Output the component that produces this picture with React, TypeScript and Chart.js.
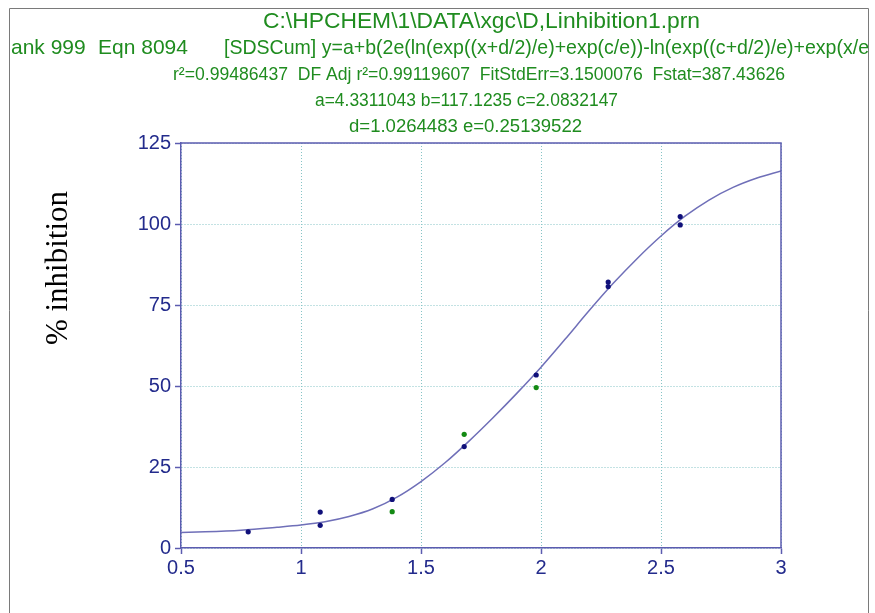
import React, { useEffect, useRef } from "react";
import { Chart, registerables } from "chart.js";

Chart.register(...registerables);

// ---- data ----
const blueX = [0.78, 1.08, 1.08, 1.38, 1.68, 1.98, 2.28, 2.28, 2.58, 2.58];
const blueY = [5.0, 11.1, 7.0, 15.0, 31.3, 53.4, 82.1, 80.7, 102.3, 99.7];
const greenX = [1.38, 1.68, 1.98];
const greenY = [11.2, 35.1, 49.5];
const fitX = [0.5, 0.6, 0.75, 0.9, 1.0, 1.1, 1.2, 1.3, 1.4, 1.5, 1.6, 1.7, 1.8, 1.9, 2.0, 2.1, 2.2, 2.3, 2.4, 2.5, 2.6, 2.7, 2.8, 2.9, 3.0];
const fitY = [4.8, 5.0, 5.5, 6.4, 7.1, 8.1, 9.7, 12.1, 15.7, 20.5, 26.3, 33.0, 40.2, 47.8, 55.8, 64.4, 73.2, 81.6, 89.3, 96.3, 102.4, 107.4, 111.3, 114.2, 116.4];
const xTicks = [0.5, 1, 1.5, 2, 2.5, 3];
const yTicks = [0, 25, 50, 75, 100, 125];
const headerTitle = "C:\\HPCHEM\\1\\DATA\\xgc\\D,Linhibition1.prn";
const headerEqnParts = ["ank 999", "Eqn 8094", "[SDSCum] y=a+b(2e(ln(exp((x+d/2)/e)+exp(c/e))-ln(exp((c+d/2)/e)+exp(x/e"];
const headerStats = "r\u00B2=0.99486437  DF Adj r\u00B2=0.99119607  FitStdErr=3.1500076  Fstat=387.43626";
const headerParams1 = "a=4.3311043 b=117.1235 c=2.0832147";
const headerParams2 = "d=1.0264483 e=0.25139522";
const yTitle = "% inhibition";

const AXIS = "#5c5cb0";
const TICKTXT = "#232b8c";
const GRID = "#86c4c6";
const GREENTXT = "#1f8c1f";
const SANS = "'Liberation Sans', Arial, sans-serif";

// draw text so that it fills the horizontal span [x0, x1]
function fitText(ctx: CanvasRenderingContext2D, text: string, x0: number, x1: number, y: number, size: number) {
  ctx.font = `${size}px ${SANS}`;
  const w = ctx.measureText(text).width;
  const s = (x1 - x0) / w;
  ctx.save();
  ctx.translate(x0, y);
  ctx.scale(s, 1);
  ctx.textAlign = "left";
  ctx.fillText(text, 0, 0);
  ctx.restore();
}

const decorPlugin = {
  id: "decor",
  afterDraw(chart: any) {
    const ctx = chart.ctx;
    const a = chart.chartArea;
    ctx.save();
    // outer frame of the picture
    ctx.strokeStyle = "#7a7a7a";
    ctx.lineWidth = 1;
    ctx.beginPath();
    ctx.moveTo(9.5, 613);
    ctx.lineTo(9.5, 8.5);
    ctx.lineTo(868.5, 8.5);
    ctx.lineTo(868.5, 613);
    ctx.stroke();
    // plot frame (top and right)
    ctx.strokeStyle = AXIS;
    ctx.lineWidth = 1.5;
    ctx.beginPath();
    ctx.moveTo(a.left, a.top);
    ctx.lineTo(a.right, a.top);
    ctx.lineTo(a.right, a.bottom);
    ctx.stroke();
    // header
    ctx.fillStyle = GREENTXT;
    ctx.textBaseline = "middle";
    fitText(ctx, headerTitle, 263, 700, 22, 22);
    ctx.save();
    ctx.beginPath();
    ctx.rect(10, 30, 858, 40);
    ctx.clip();
    ctx.font = `21px ${SANS}`;
    ctx.textAlign = "left";
    ctx.fillText(headerEqnParts[0], 11, 48);
    ctx.fillText(headerEqnParts[1], 98, 48);
    fitText(ctx, headerEqnParts[2], 224, 869, 48, 21);
    ctx.restore();
    fitText(ctx, headerStats, 173, 785, 75, 17.5);
    fitText(ctx, headerParams1, 315, 618, 101, 17.5);
    fitText(ctx, headerParams2, 349, 582, 127, 17.5);
    // y title
    ctx.translate(59, 268);
    ctx.rotate(-Math.PI / 2);
    ctx.fillStyle = "#000";
    ctx.font = `31px 'Liberation Serif', 'Times New Roman', serif`;
    ctx.textAlign = "center";
    ctx.fillText(yTitle, 0, 0);
    ctx.restore();
  },
};

export default function App() {
  const ref = useRef<HTMLCanvasElement>(null);
  useEffect(() => {
    if (!ref.current) return;
    const chart = new Chart(ref.current, {
      type: "scatter",
      data: {
        datasets: [
          {
            label: "fit",
            data: fitX.map((x, i) => ({ x, y: fitY[i] })),
            showLine: true,
            pointRadius: 0,
            borderColor: "#6f6fb8",
            borderWidth: 1.5,
            cubicInterpolationMode: "monotone",
            order: 3,
          },
          {
            label: "set2",
            data: greenX.map((x, i) => ({ x, y: greenY[i] })),
            pointRadius: 2.6,
            pointBorderWidth: 0,
            backgroundColor: "#138a13",
            borderColor: "#138a13",
            order: 2,
          },
          {
            label: "set1",
            data: blueX.map((x, i) => ({ x, y: blueY[i] })),
            pointRadius: 2.6,
            pointBorderWidth: 0,
            backgroundColor: "#10107a",
            borderColor: "#10107a",
            order: 1,
          },
        ],
      },
      options: {
        responsive: false,
        animation: false,
        devicePixelRatio: 1,
        layout: { padding: { left: 100, right: 94, top: 143, bottom: 25 } },
        plugins: { legend: { display: false }, tooltip: { enabled: false }, title: { display: false } },
        scales: {
          x: {
            type: "linear",
            min: 0.5,
            max: 3,
            afterBuildTicks: (s: any) => { s.ticks = xTicks.map((v) => ({ value: v })); },
            afterFit: (s: any) => { s.height = 40; },
            ticks: { color: TICKTXT, font: { family: SANS, size: 20 }, padding: 2, maxRotation: 0, callback: (v: any) => String(v) },
            grid: { color: GRID, lineWidth: 1, tickLength: 6, tickColor: AXIS, tickWidth: 1.5 },
            border: { color: AXIS, width: 1.5, dash: [1, 2] },
          },
          y: {
            type: "linear",
            min: 0,
            max: 125,
            afterBuildTicks: (s: any) => { s.ticks = yTicks.map((v) => ({ value: v })); },
            afterFit: (s: any) => { s.width = 81; },
            ticks: { color: TICKTXT, font: { family: SANS, size: 20 }, padding: 4, callback: (v: any) => String(v) },
            grid: { color: GRID, lineWidth: 1, tickLength: 6, tickColor: AXIS, tickWidth: 1.5 },
            border: { color: AXIS, width: 1.5, dash: [1, 2] },
          },
        },
      },
      plugins: [decorPlugin],
    } as any);
    return () => chart.destroy();
  }, []);
  return (
    <div style={{ position: "absolute", left: 0, top: 0, width: 875, height: 613, background: "#fff" }}>
      <canvas ref={ref} width={875} height={613} style={{ width: 875, height: 613 }} />
    </div>
  );
}
